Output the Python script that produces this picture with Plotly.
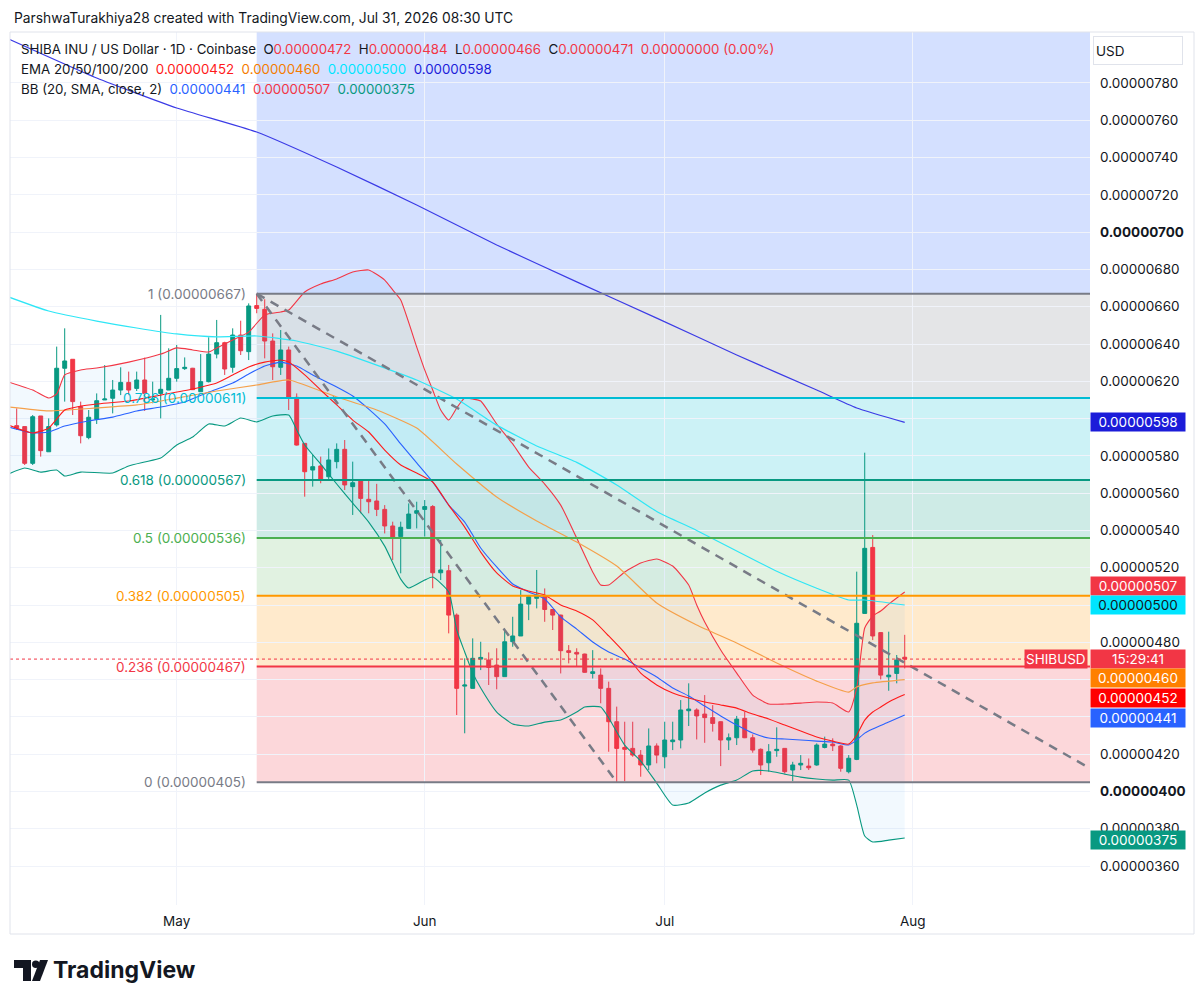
import pandas as pd
import plotly.graph_objects as go

# prices are in units of 1e-8 USD, so 667 means 0.00000667
first_day = pd.Timestamp("2026-04-11")
days = pd.date_range(first_day, periods=112, freq="D")

opens = [
    596.2, 595.7, 576.0, 601.4, 582.2, 596.6, 627.0, 631.8, 606.4, 589.8,
    599.6, 610.0, 610.9, 615.3, 619.4, 616.2, 620.7, 610.0, 613.5, 615.3,
    621.6, 626.8, 627.0, 614.4, 619.8, 634.6, 640.7, 627.5, 644.8, 635.9,
    660.6, 658.6, 641.6, 627.5, 636.8, 611.4, 586.7, 572.4, 574.6, 568.8,
    576.9, 583.5, 563.5, 567.0, 556.7, 555.8, 551.3, 542.4, 536.7, 541.1,
    549.2, 551.3, 552.8, 517.3, 518.4, 494.6, 456.5, 455.3, 471.0, 470.5,
    467.8, 461.6, 480.3, 483.4, 500.5, 503.6, 504.5, 497.6, 494.6, 475.5,
    474.6, 473.7, 463.3, 462.4, 455.3, 437.4, 423.6, 423.1, 419.5, 414.2,
    424.4, 418.6, 426.7, 427.6, 443.3, 443.7, 441.5, 439.6, 437.4, 427.6,
    428.8, 439.2, 428.8, 422.6, 415.4, 421.9, 423.1, 411.5, 414.2, 413.6,
    414.2, 423.6, 425.4, 424.4, 410.6, 417.2, 495.5, 530.9, 485.2, 461.5,
    463.3, 472.0,
]
highs = [
    605.5, 595.7, 601.9, 601.4, 600.1, 638.6, 648.4, 631.8, 609.1, 604.6,
    613.5, 628.7, 620.7, 627.5, 625.2, 625.2, 632.7, 619.8, 655.6, 637.7,
    639.5, 632.8, 627.2, 634.6, 643.6, 652.9, 641.2, 648.4, 652.5, 661.8,
    667.0, 664.0, 645.7, 647.5, 638.6, 613.5, 586.9, 580.5, 579.6, 584.0,
    586.7, 588.5, 576.9, 567.2, 567.0, 565.0, 553.6, 544.7, 544.7, 554.5,
    555.4, 556.3, 553.6, 534.9, 521.5, 495.5, 471.4, 482.1, 480.3, 474.6,
    476.8, 486.6, 493.7, 508.0, 505.4, 518.8, 508.9, 497.8, 494.8, 478.5,
    476.8, 473.9, 475.8, 466.0, 458.9, 445.5, 437.4, 437.4, 422.2, 433.8,
    425.8, 437.4, 437.4, 449.0, 458.0, 444.6, 451.7, 446.3, 437.6, 431.1,
    440.5, 442.8, 430.6, 423.1, 425.4, 434.4, 423.3, 415.9, 419.5, 417.7,
    425.8, 429.4, 428.5, 424.9, 419.5, 517.9, 581.7, 537.5, 485.4, 485.7,
    473.2, 484.0,
]
lows = [
    593.9, 575.1, 575.1, 579.6, 582.2, 595.7, 609.1, 601.9, 586.7, 588.9,
    597.1, 610.0, 602.8, 612.6, 612.6, 614.8, 604.1, 608.2, 600.1, 615.3,
    619.8, 626.1, 615.3, 614.4, 619.4, 632.3, 623.4, 624.6, 634.1, 631.4,
    656.5, 632.3, 620.7, 623.4, 604.6, 585.5, 558.1, 563.5, 565.3, 567.0,
    573.3, 561.7, 548.3, 549.2, 549.2, 547.7, 538.4, 524.1, 517.0, 541.0,
    541.1, 536.7, 509.0, 513.4, 484.8, 441.0, 431.2, 455.3, 465.1, 457.1,
    454.8, 461.6, 477.6, 483.4, 491.9, 498.2, 491.0, 486.6, 463.3, 468.7,
    466.9, 463.7, 460.6, 447.3, 421.3, 405.0, 405.5, 418.6, 407.9, 411.5,
    415.1, 412.4, 422.2, 423.1, 435.1, 427.9, 426.1, 432.1, 413.6, 422.2,
    424.9, 428.6, 420.8, 408.8, 410.6, 418.6, 409.7, 405.5, 411.5, 411.5,
    413.8, 423.1, 421.7, 410.6, 409.7, 416.8, 495.3, 481.2, 460.1, 454.0,
    458.0, 466.0,
]
closes = [
    595.1, 576.0, 601.0, 582.8, 595.7, 627.0, 630.9, 609.1, 590.8, 600.7,
    609.6, 610.5, 615.3, 619.4, 615.3, 620.7, 613.5, 610.5, 615.7, 621.6,
    626.8, 627.5, 615.5, 619.8, 634.6, 640.7, 626.6, 644.8, 636.4, 660.4,
    659.1, 641.6, 627.8, 636.8, 611.4, 585.8, 571.5, 574.2, 567.0, 577.8,
    583.5, 564.4, 565.6, 557.2, 555.4, 551.3, 542.4, 535.8, 541.7, 548.8,
    550.6, 552.8, 517.3, 518.8, 494.6, 455.3, 457.1, 471.4, 471.9, 466.5,
    461.6, 480.3, 483.4, 500.5, 504.5, 505.4, 497.6, 494.6, 475.5, 474.6,
    473.7, 463.9, 464.2, 455.3, 437.4, 423.1, 422.6, 419.5, 414.2, 424.4,
    419.5, 427.6, 427.6, 443.7, 444.2, 440.5, 439.6, 436.5, 427.6, 428.8,
    438.8, 428.8, 422.2, 414.2, 421.3, 422.6, 410.6, 414.2, 415.1, 412.7,
    424.9, 425.4, 424.5, 412.4, 417.8, 490.2, 530.4, 483.4, 462.4, 462.4,
    470.5, 471.0,
]

# indicator lines at candle numbers (1 = Apr 11, 0 = Apr 10)
ema200_n = [0, 11, 21, 31, 41, 51, 61, 71, 81, 91, 101, 106, 112]
ema200_v = [803.6, 782.7, 766.6, 753.7, 734.9, 714.6, 693.1, 673.3, 653.9, 634.1, 615.3, 605.7, 598.0]

ema100_n = [0, 5, 11, 16, 21, 26, 31, 36, 41, 46, 51, 56, 61, 66, 71, 76, 81, 86, 91, 96, 101, 105, 107, 112]
ema100_v = [665.2, 657.7, 652.3, 648.6, 645.4, 643.8, 644.3, 641.6, 636.2, 628.7, 620.7, 610.5,
            596.5, 585.3, 576.5, 564.4, 550.2, 540.0, 529.0, 518.1, 509.0, 502.7, 502.7, 500.0]

ema50_n = [0, 5, 11, 16, 21, 26, 31, 35, 38, 41, 46, 51, 56, 61, 66, 71, 76, 81, 86, 91, 96, 101, 105, 106, 108, 112]
ema50_v = [606.2, 604.1, 605.7, 607.3, 611.0, 614.8, 618.0, 620.7, 616.4, 611.6, 604.6, 594.9, 575.6,
           557.9, 545.1, 533.8, 520.9, 501.1, 489.3, 479.6, 468.9, 459.2, 453.3, 456.0, 458.2, 460.0]

ema20_n = [0, 3, 5, 7, 9, 11, 15, 19, 23, 26, 28, 30, 32, 34, 35, 37, 39, 41, 43, 45, 47, 49, 51, 53,
           55, 57, 59, 61, 63, 65, 67, 69, 71, 73, 75, 77, 79, 81, 83, 85, 87, 89, 91, 93, 95, 97, 99,
           101, 103, 105, 106, 107, 108, 109, 110, 111, 112]
ema20_v = [596.5, 592.3, 594.9, 604.6, 606.7, 607.8, 609.4, 612.6, 615.9, 619.1, 623.4, 627.7, 630.3,
           631.4, 630.3, 623.4, 615.3, 607.3, 599.2, 592.8, 583.1, 575.1, 570.8, 566.0, 553.6, 541.8,
           528.4, 517.2, 510.2, 507.5, 505.4, 500.0, 496.8, 492.0, 483.4, 474.3, 463.5, 457.1, 452.8,
           450.1, 448.0, 446.4, 444.7, 441.5, 438.9, 435.6, 432.4, 429.2, 427.0, 425.4, 430.3, 438.3,
           442.6, 445.3, 448.0, 450.1, 452.0]

bb_mid_n = [0, 3, 5, 7, 10, 13, 16, 19, 22, 25, 28, 30, 32, 34, 36, 38, 41, 43, 45, 47, 49, 51, 53, 55,
            57, 59, 61, 63, 65, 67, 69, 71, 73, 75, 77, 79, 81, 83, 85, 87, 89, 91, 93, 95, 97, 99, 101,
            103, 105, 106, 107, 108, 110, 112]
bb_mid_v = [595.5, 592.3, 592.8, 596.0, 598.7, 600.8, 604.1, 606.2, 608.9, 614.2, 619.1, 623.9, 628.2,
            630.3, 628.2, 623.4, 616.9, 612.1, 605.1, 597.1, 586.4, 576.2, 566.0, 553.6, 544.5, 530.6,
            520.4, 511.3, 507.0, 503.2, 493.6, 487.1, 480.2, 474.8, 471.0, 466.2, 461.4, 455.5, 451.2,
            445.8, 440.5, 435.6, 431.3, 428.7, 428.1, 427.6, 427.0, 426.5, 424.9, 427.6, 431.3, 433.5,
            437.2, 441.0]

bb_up_n = [0, 3, 5, 6, 7, 9, 11, 15, 19, 21, 23, 25, 26, 28, 30, 32, 34, 35, 37, 39, 41, 43, 45, 47,
           48, 49, 51, 52, 53, 54, 55, 56, 57, 58, 59, 61, 63, 65, 67, 69, 71, 73, 74, 75, 77, 79, 81,
           83, 85, 86, 87, 89, 91, 93, 95, 97, 99, 101, 103, 105, 106, 107, 108, 109, 110, 111, 112]
bb_up_v = [619.6, 615.3, 611.0, 613.2, 623.4, 626.1, 627.1, 630.3, 634.6, 637.9, 636.8, 635.7, 637.9,
           642.1, 646.4, 655.6, 657.2, 658.2, 667.9, 672.2, 674.9, 678.6, 679.7, 674.3, 669.0, 663.6,
           638.4, 626.1, 615.3, 604.6, 599.2, 605.7, 611.0, 610.5, 609.4, 597.1, 586.4, 574.0, 564.9,
           553.6, 535.9, 517.7, 510.7, 510.7, 517.7, 522.5, 524.7, 520.9, 510.7, 500.0, 490.9, 475.9,
           463.5, 451.7, 446.9, 446.9, 447.4, 448.0, 447.4, 442.6, 455.5, 487.7, 494.1, 496.8, 500.5,
           503.8, 507.0]

bb_lo_n = [0, 2, 4, 6, 7, 9, 13, 15, 17, 19, 21, 23, 25, 27, 29, 31, 33, 35, 36, 37, 39, 41, 43, 45,
           47, 49, 50, 52, 53, 55, 56, 57, 58, 59, 61, 63, 65, 67, 69, 71, 72, 74, 75, 77, 79, 81, 83,
           85, 87, 89, 91, 93, 95, 97, 99, 101, 103, 105, 106, 107, 108, 110, 112]
bb_lo_v = [570.3, 573.5, 571.3, 572.4, 569.2, 571.3, 570.8, 574.6, 576.7, 578.8, 585.8, 590.1, 597.1,
           596.0, 600.3, 598.2, 601.4, 601.9, 593.9, 585.8, 575.6, 564.9, 554.7, 544.5, 531.6, 513.9,
           509.1, 513.4, 515.0, 507.0, 486.6, 474.8, 463.5, 455.5, 442.6, 436.2, 435.1, 437.2, 438.3,
           442.6, 445.3, 445.3, 439.4, 424.9, 416.3, 404.5, 392.7, 393.8, 399.2, 403.4, 406.1, 411.0,
           411.0, 409.3, 407.7, 406.7, 406.1, 406.1, 392.7, 376.1, 372.9, 373.9, 375.0]

# fibonacci retracement from the May 11 high to the Jun 25 low
fib_ratios = ["0", "0.236", "0.382", "0.5", "0.618", "0.786", "1"]
fib_prices = [405, 467, 505, 536, 567, 611, 667]
fib_colors = ["#787b86", "#f23645", "#ff9800", "#4caf50", "#089981", "#00bcd4", "#787b86"]
fib_fills = ["rgba(242,54,69,0.2)", "rgba(255,152,0,0.2)", "rgba(76,175,80,0.17)",
             "rgba(8,153,129,0.2)", "rgba(0,188,212,0.2)", "rgba(120,123,134,0.2)",
             "rgba(41,98,255,0.2)"]
fib_start = "2026-05-11"

trend_dates = [["2026-05-11", "2026-06-25"], ["2026-05-11", "2026-08-22 12:00"]]
trend_prices = [[667, 405], [667, 414]]

last_ohlc = [472, 484, 466, 471]
ema_last = [452, 460, 500, 598]
bb_last = [441, 507, 375]
y_ticks = list(range(360, 781, 20))
covered_ticks = [440, 460, 500, 600]   # hidden behind the price tags
month_ticks = ["2026-05-01", "2026-06-01", "2026-07-01", "2026-08-01"]
month_names = ["May", "Jun", "Jul", "Aug"]

x_range = ["2026-04-10 03:54", "2026-08-23 03:50"]
y_range = [339.1, 807.35]

FONT = "Inter, Roboto, sans-serif"
TXT = "#131722"

# pixel helpers for decorations outside the data area
PL, PR, PT, PB = 10, 1090, 32, 905


def px(x):
    return (x - PL) / (PR - PL)


def py(y):
    return (PB - y) / (PB - PT)


def on_day(ns):
    return [first_day + pd.Timedelta(days=n - 1) for n in ns]


def usd(v):
    return f"{v / 1e8:.8f}"


def line(ns, vs, color, width=1.1):
    return go.Scatter(x=on_day(ns), y=vs, mode="lines", hoverinfo="skip",
                      line=dict(color=color, width=width, shape="spline", smoothing=0.5))


fig = go.Figure()

fig.add_trace(go.Candlestick(
    x=days, open=opens, high=highs, low=lows, close=closes,
    increasing=dict(line=dict(color="#089981", width=1), fillcolor="#089981"),
    decreasing=dict(line=dict(color="#f23645", width=1), fillcolor="#f23645"),
    whiskerwidth=0, hoverinfo="skip"))

# bollinger bands with a faint fill
fig.add_trace(line(bb_up_n, bb_up_v, "#f23645"))
lower = line(bb_lo_n, bb_lo_v, "#089981")
lower.update(fill="tonexty", fillcolor="rgba(33,150,243,0.06)")
fig.add_trace(lower)
fig.add_trace(line(bb_mid_n, bb_mid_v, "#2962ff"))

fig.add_trace(line(ema200_n, ema200_v, "#3b3be6", 1.2))
fig.add_trace(line(ema100_n, ema100_v, "#2ee6f6", 1.2))
fig.add_trace(line(ema50_n, ema50_v, "#f5a04a", 1.2))
fig.add_trace(line(ema20_n, ema20_v, "#ff1a1a", 1.1))

for d, p in zip(trend_dates, trend_prices):
    fig.add_trace(go.Scatter(x=d, y=p, mode="lines", hoverinfo="skip",
                             line=dict(color="#787b86", width=2.5, dash="9px,7px")))

shapes = []
annotations = []

# fib bands, level lines and labels
band_tops = fib_prices[1:] + [y_range[1]]
for lo, hi, fc in zip(fib_prices, band_tops, fib_fills):
    shapes.append(dict(type="rect", xref="x", yref="y", x0=fib_start, x1=x_range[1],
                       y0=lo, y1=hi, fillcolor=fc, line_width=0, layer="below"))
for r, p, c in zip(fib_ratios, fib_prices, fib_colors):
    shapes.append(dict(type="line", xref="x", yref="y", x0=fib_start, x1=x_range[1],
                       y0=p, y1=p, line=dict(color=c, width=2)))
    annotations.append(dict(xref="x", yref="y", x=fib_start, y=p, xanchor="right",
                            xshift=-9, showarrow=False, text=f"{r} ({usd(p)})",
                            font=dict(size=13.5, color=c, family=FONT)))

# current price dotted line
shapes.append(dict(type="line", xref="paper", yref="y", x0=0, x1=1,
                   y0=last_ohlc[3], y1=last_ohlc[3],
                   line=dict(color="#f23645", width=1, dash="dot")))

# outer frame around the chart and price scale
shapes.append(dict(type="rect", xref="paper", yref="paper", x0=px(10), x1=px(1194),
                   y0=py(934), y1=py(32), line=dict(color="#e0e3eb", width=1)))


# price scale tags
def tag(text, value, bg, fg="white", yshift=0):
    annotations.append(dict(xref="paper", yref="y", x=1, y=value, xanchor="left",
                            yanchor="middle", yshift=yshift, showarrow=False, text=text,
                            bgcolor=bg, width=92, height=16, borderpad=1, align="center",
                            font=dict(size=13.5, color=fg, family=FONT)))


tag(usd(ema_last[3]), ema_last[3], "#1c1cd9")
tag(usd(bb_last[1]), bb_last[1], "#f23645", yshift=6)
tag(usd(ema_last[2]), ema_last[2], "#00e5ff", fg=TXT)
tag("15:29:41", last_ohlc[3], "#f23645")
tag(usd(ema_last[1]), ema_last[1], "#ff8000", yshift=1.5)
tag(usd(ema_last[0]), ema_last[0], "#ff0000", yshift=-3.5)
tag(usd(bb_last[0]), bb_last[0], "#2962ff", yshift=-3)
tag(usd(bb_last[2]), bb_last[2], "#089981", yshift=-2)
annotations.append(dict(xref="paper", yref="y", x=1, y=last_ohlc[3], xanchor="right",
                        xshift=-2, showarrow=False, text="SHIBUSD", bgcolor="#f23645",
                        height=16, borderpad=1, font=dict(size=13.5, color="white", family=FONT)))

annotations.append(dict(xref="paper", yref="paper", x=px(1093), y=py(50), xanchor="left",
                        yanchor="middle", showarrow=False, text="USD", width=84, height=23,
                        align="left", bordercolor="#e0e3eb", borderwidth=1, borderpad=2,
                        font=dict(size=13.5, color=TXT, family=FONT)))

# header and indicator legend
annotations.append(dict(xref="paper", yref="paper", x=px(12), y=py(18), xanchor="left",
                        yanchor="middle", showarrow=False,
                        text="ParshwaTurakhiya28 created with TradingView.com, Jul 31, 2026 08:30 UTC",
                        font=dict(size=13.8, color=TXT, family=FONT)))


def col(v, c):
    return f"<span style='color:{c}'>{v}</span>"


red = "#f23645"
legend_lines = [
    "SHIBA INU / US Dollar · 1D · Coinbase  "
    + "  ".join(k + col(usd(v), red) for k, v in zip("OHLC", last_ohlc))
    + "  " + col("0.00000000 (0.00%)", red),
    "EMA 20/50/100/200  " + "  ".join(col(usd(v), c) for v, c in
                                     zip(ema_last, ["#ff1a1a", "#f57c00", "#00e5ff", "#1c1cd9"])),
    "BB (20, SMA, close, 2)  " + "  ".join(col(usd(v), c) for v, c in
                                          zip(bb_last, ["#2962ff", "#f23645", "#089981"])),
]
for i, t in enumerate(legend_lines):
    annotations.append(dict(xref="paper", yref="paper", x=px(19), y=py(49 + 20 * i),
                            xanchor="left", yanchor="middle", showarrow=False, text=t,
                            font=dict(size=13.3, color=TXT, family=FONT)))

# TradingView logo
annotations.append(dict(xref="paper", yref="paper", x=px(51), y=py(970), xanchor="left",
                        yanchor="middle", showarrow=False, text="<b>TradingView</b>",
                        font=dict(size=23, color=TXT, family=FONT)))


def path(points):
    return "M " + " L ".join(f"{px(a)},{py(b)}" for a, b in points) + " Z"


shapes.append(dict(type="path", xref="paper", yref="paper", line_width=0, fillcolor=TXT,
                   path=path([(14, 960), (31, 960), (31, 981), (23, 981), (23, 968), (14, 968)])))
shapes.append(dict(type="circle", xref="paper", yref="paper", line_width=0, fillcolor=TXT,
                   x0=px(32), x1=px(39.5), y0=py(968), y1=py(960.5)))
shapes.append(dict(type="path", xref="paper", yref="paper", line_width=0, fillcolor=TXT,
                   path=path([(40, 960), (48, 960), (40, 981), (32, 981)])))

y_text = []
for v in y_ticks:
    if v in covered_ticks:
        y_text.append("")
    elif v in (400, 700):
        y_text.append(f"<b>{usd(v)}</b>")
    else:
        y_text.append(usd(v))

fig.update_layout(
    width=1204, height=1005,
    margin=dict(l=PL, r=1204 - PR, t=PT, b=1005 - PB),
    paper_bgcolor="white", plot_bgcolor="white",
    showlegend=False, hovermode=False,
    font=dict(family=FONT, color=TXT, size=13.5),
    shapes=shapes, annotations=annotations,
    xaxis=dict(type="date", range=x_range, tickvals=month_ticks, ticktext=month_names,
               showgrid=True, gridcolor="#f0f3fa", zeroline=False, showline=False,
               rangeslider=dict(visible=False), ticks="", ticklabelstandoff=6,
               tickfont=dict(size=13.5, color=TXT)),
    yaxis=dict(side="right", range=y_range, tickvals=y_ticks, ticktext=y_text,
               showgrid=True, gridcolor="#f0f3fa", zeroline=False, showline=False,
               ticks="", ticklabelstandoff=9, tickfont=dict(size=13.5, color=TXT)),
)

# the page's default body margin would push the figure 8px down and right
fig.write_html("out.html", config={"displayModeBar": False},
               post_script="document.body.style.margin = '0';")
